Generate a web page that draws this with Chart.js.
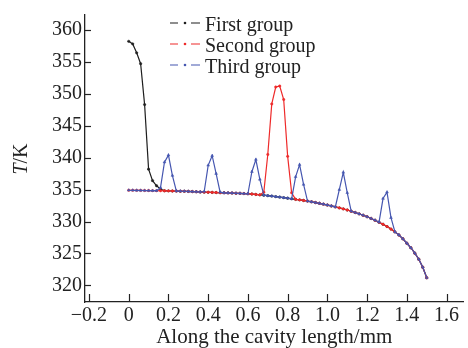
<!DOCTYPE html>
<html>
<head>
  <title>Temperature along the cavity</title>
  <script src="https://cdn.jsdelivr.net/npm/chart.js@4.4.1/dist/chart.umd.min.js"></script>
  <style>
    body { margin: 0; background: #fff; }
    canvas { display: block; }
  </style>
</head>
<body>
  <canvas id="chart" width="468" height="348"></canvas>

  <script>
    // position along the cavity (mm), shared by all three groups
    const lengthMm = [0, 0.02, 0.04, 0.06, 0.08, 0.1, 0.12, 0.14, 0.16, 0.18,
      0.2, 0.22, 0.24, 0.26, 0.28, 0.3, 0.32, 0.34, 0.36, 0.38,
      0.4, 0.42, 0.44, 0.46, 0.48, 0.5, 0.52, 0.54, 0.56, 0.58,
      0.6, 0.62, 0.64, 0.66, 0.68, 0.7, 0.72, 0.74, 0.76, 0.78,
      0.8, 0.82, 0.84, 0.86, 0.88, 0.9, 0.92, 0.94, 0.96, 0.98,
      1, 1.02, 1.04, 1.06, 1.08, 1.1, 1.12, 1.14, 1.16, 1.18,
      1.2, 1.22, 1.24, 1.26, 1.28, 1.3, 1.32, 1.34, 1.36, 1.38,
      1.4, 1.42, 1.44, 1.46, 1.48, 1.5];

    // temperature T (K)
    const firstGroup = [358.2, 357.8, 356.4, 354.7, 348.3, 338.2, 336.4, 335.6, 335.1, 334.81,
      334.80, 334.78, 334.77, 334.75, 334.74, 334.72, 334.69, 334.66, 334.63, 334.60,
      334.58, 334.56, 334.54, 334.52, 334.50, 334.48, 334.46, 334.43, 334.41, 334.38,
      334.35, 334.30, 334.24, 334.18, 334.12, 334.05, 333.98, 333.90, 333.82, 333.74,
      333.65, 333.56, 333.47, 333.39, 333.30, 333.20, 333.09, 332.97, 332.85, 332.72,
      332.58, 332.44, 332.29, 332.14, 331.98, 331.80, 331.61, 331.41, 331.20, 330.98,
      330.75, 330.48, 330.20, 329.90, 329.57, 329.22, 328.82, 328.38, 327.90, 327.30,
      326.60, 325.90, 325.05, 324.10, 322.85, 321.20];

    const secondGroup = [334.90, 334.89, 334.88, 334.87, 334.86, 334.85, 334.84, 334.83, 334.82, 334.81,
      334.80, 334.78, 334.77, 334.75, 334.74, 334.72, 334.69, 334.66, 334.63, 334.60,
      334.58, 334.56, 334.54, 334.52, 334.50, 334.48, 334.46, 334.43, 334.41, 334.38,
      334.35, 334.30, 334.24, 334.18, 334.6, 340.5, 348.4, 351.05, 351.2, 349.1,
      340.2, 334.5, 333.47, 333.39, 333.30, 333.20, 333.09, 332.97, 332.85, 332.72,
      332.58, 332.44, 332.29, 332.14, 331.98, 331.80, 331.61, 331.41, 331.20, 330.98,
      330.75, 330.48, 330.20, 329.90, 329.57, 329.22, 328.82, 328.38, 327.90, 327.30,
      326.60, 325.90, 325.05, 324.10, 322.85, 321.20];

    const thirdGroup = [334.90, 334.89, 334.88, 334.87, 334.86, 334.85, 334.84, 334.83, 335.3, 339.3,
      340.4, 337.2, 334.77, 334.75, 334.74, 334.72, 334.69, 334.66, 334.63, 334.7,
      338.8, 340.3, 337.5, 334.6, 334.50, 334.48, 334.46, 334.43, 334.41, 334.38,
      334.35, 337.8, 339.7, 336.6, 334.12, 334.05, 333.98, 333.90, 333.82, 333.74,
      333.65, 333.56, 337.0, 338.9, 335.8, 333.20, 333.09, 332.97, 332.85, 332.72,
      332.58, 332.44, 332.29, 335.0, 337.7, 334.5, 331.61, 331.41, 331.20, 330.98,
      330.75, 330.48, 330.20, 329.90, 333.6, 334.6, 330.6, 328.38, 327.90, 327.30,
      326.60, 325.90, 325.05, 324.10, 322.85, 321.20];

    const groupNames = ['First group', 'Second group', 'Third group'];
    const xTicks = [-0.2, 0, 0.2, 0.4, 0.6, 0.8, 1.0, 1.2, 1.4, 1.6];
    const yTicks = [320, 325, 330, 335, 340, 345, 350, 355, 360];

    const colors = ['#1e1e1e', '#ee2a2a', '#4556b0'];
    const ink = '#222';
    const serif = '"Liberation Serif", "DejaVu Serif", serif';

    const toPoints = (ys) => lengthMm.map((x, i) => ({ x: x, y: ys[i] }));

    const makeSet = (label, ys, color, style, order) => ({
      label: label,
      data: toPoints(ys),
      borderColor: color,
      backgroundColor: color,
      borderWidth: 1.2,
      pointRadius: style === 'triangle' ? 1.6 : 1.2,
      pointStyle: style,
      pointBorderWidth: 0.5,
      pointBackgroundColor: color,
      pointBorderColor: color,
      tension: 0,
      fill: false,
      order: order
    });

    // inward tick marks, legend and the y title
    const decor = {
      id: 'decor',
      afterDraw(chart) {
        const { ctx, chartArea, scales } = chart;
        ctx.save();
        ctx.strokeStyle = ink;
        ctx.lineWidth = 1.2;
        scales.x.ticks.forEach(t => {
          const px = Math.round(scales.x.getPixelForValue(t.value)) + 0.5;
          ctx.beginPath();
          ctx.moveTo(px, chartArea.bottom);
          ctx.lineTo(px, chartArea.bottom - 8);
          ctx.stroke();
        });
        scales.y.ticks.forEach(t => {
          const py = Math.round(scales.y.getPixelForValue(t.value)) + 0.5;
          ctx.beginPath();
          ctx.moveTo(chartArea.left, py);
          ctx.lineTo(chartArea.left + 6, py);
          ctx.stroke();
        });

        // legend
        ctx.font = '20px ' + serif;
        ctx.textBaseline = 'alphabetic';
        groupNames.forEach((name, i) => {
          const y = 23 + i * 21;
          ctx.strokeStyle = colors[i];
          ctx.fillStyle = colors[i];
          ctx.lineWidth = 1.2;
          ctx.beginPath();
          ctx.moveTo(170, y); ctx.lineTo(178, y);
          ctx.moveTo(191, y); ctx.lineTo(200, y);
          ctx.stroke();
          ctx.beginPath();
          ctx.arc(185, y, 1.3, 0, Math.PI * 2);
          ctx.fill();
          ctx.fillStyle = ink;
          ctx.textAlign = 'left';
          ctx.fillText(name, 205, y + 8);
        });

        // y title: italic T / K
        ctx.translate(27, 159);
        ctx.rotate(-Math.PI / 2);
        ctx.fillStyle = ink;
        ctx.font = 'italic 20px ' + serif;
        const wT = ctx.measureText('T').width;
        ctx.font = '20px ' + serif;
        const wRest = ctx.measureText('/K').width;
        const start = -(wT + wRest) / 2;
        ctx.font = 'italic 20px ' + serif;
        ctx.fillText('T', start, 0);
        ctx.font = '20px ' + serif;
        ctx.fillText('/K', start + wT, 0);
        ctx.restore();
      }
    };

    const fmtX = (v) => v === 0 ? '0' : v.toFixed(1).replace('-', '\u2212');

    new Chart(document.getElementById('chart'), {
      type: 'line',
      data: {
        datasets: [
          makeSet(groupNames[0], firstGroup, colors[0], 'circle', 3),
          makeSet(groupNames[1], secondGroup, colors[1], 'circle', 2),
          makeSet(groupNames[2], thirdGroup, colors[2], 'triangle', 1)
        ]
      },
      options: {
        responsive: false,
        animation: false,
        devicePixelRatio: 1,
        layout: { padding: { top: 12, right: 1, left: 0, bottom: 0 } },
        plugins: {
          legend: { display: false },
          tooltip: { enabled: false }
        },
        scales: {
          x: {
            type: 'linear',
            min: -0.22,
            max: 1.685,
            afterBuildTicks: (s) => { s.ticks = xTicks.map(v => ({ value: v })); },
            afterFit: (s) => { s.height = 46; },
            grid: { display: false, drawTicks: false },
            border: { display: true, color: ink, width: 1.3 },
            ticks: {
              color: ink,
              padding: 2,
              maxRotation: 0,
              autoSkip: false,
              font: { family: serif, size: 20 },
              callback: (v) => fmtX(v)
            },
            title: {
              display: true,
              text: 'Along the cavity length/mm',
              color: ink,
              font: { family: serif, size: 21 },
              padding: { top: 0, bottom: -2 }
            }
          },
          y: {
            type: 'linear',
            min: 317.41,
            max: 362.32,
            afterBuildTicks: (s) => { s.ticks = yTicks.map(v => ({ value: v })); },
            afterFit: (s) => { s.width = 85; },
            grid: { display: false, drawTicks: false },
            border: { display: true, color: ink, width: 1.3 },
            ticks: {
              color: ink,
              padding: 3,
              autoSkip: false,
              font: { family: serif, size: 20 },
              callback: (v) => String(v)
            }
          }
        }
      },
      plugins: [decor]
    });
  </script>
</body>
</html>
